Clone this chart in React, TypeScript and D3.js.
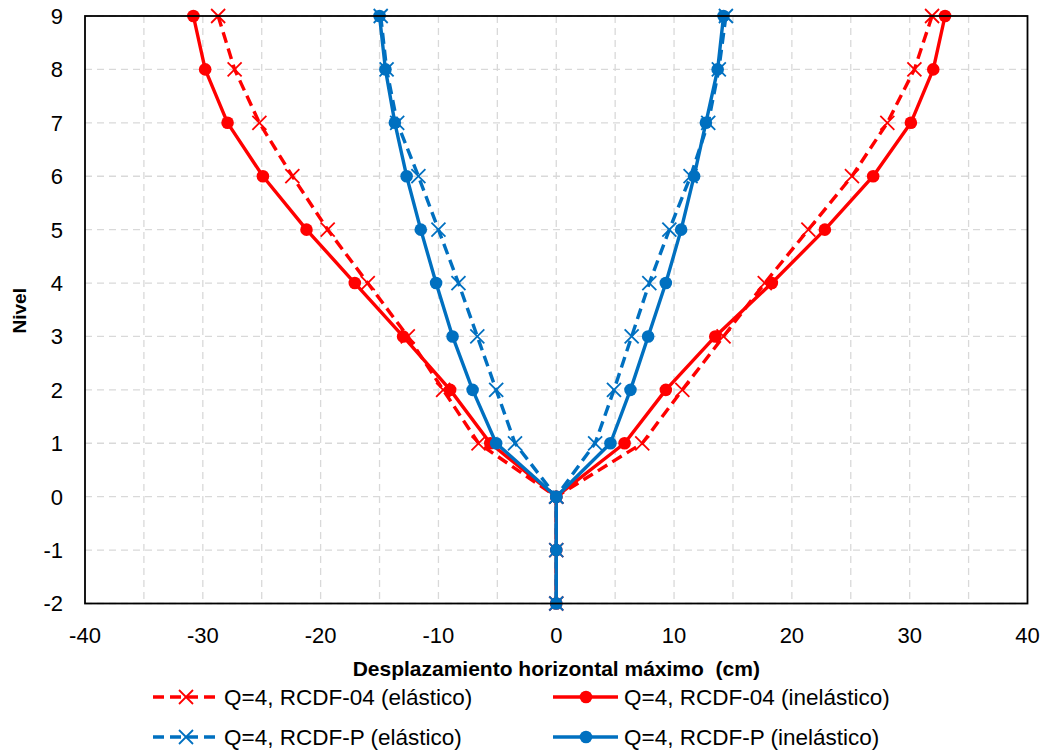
import React from "react";
import * as d3 from "d3";

const levelsUp = [9, 8, 7, 6, 5, 4, 3, 2, 1];
const baseLevels = [0, -1, -2];
const xTicks = [-40, -30, -20, -10, 0, 10, 20, 30, 40];
const yTicks = [-2, -1, 0, 1, 2, 3, 4, 5, 6, 7, 8, 9];
const xGrid = d3.range(-35, 40, 5);

const redElasticLeft = [-28.7, -27.3, -25.2, -22.4, -19.4, -16.0, -12.6, -9.6, -6.6];
const redElasticRight = [31.9, 30.4, 28.1, 25.1, 21.4, 17.7, 14.2, 10.7, 7.3];
const redInelasticLeft = [-30.8, -29.8, -27.9, -24.9, -21.2, -17.1, -13.0, -9.0, -5.6];
const redInelasticRight = [33.0, 32.0, 30.1, 26.9, 22.8, 18.3, 13.5, 9.3, 5.8];
const blueElasticLeft = [-14.9, -14.4, -13.5, -11.7, -10.0, -8.3, -6.7, -5.1, -3.5];
const blueElasticRight = [14.4, 13.8, 12.9, 11.4, 9.6, 7.9, 6.4, 4.9, 3.3];
const blueInelasticLeft = [-15.0, -14.5, -13.7, -12.7, -11.5, -10.2, -8.8, -7.1, -5.1];
const blueInelasticRight = [14.2, 13.7, 12.7, 11.7, 10.6, 9.3, 7.8, 6.3, 4.6];

const RED = "#FF0000";
const BLUE = "#0070C0";

type Series = {
  name: string;
  color: string;
  dashed: boolean;
  marker: "x" | "circle";
  left: number[];
  right: number[];
};

const series: Series[] = [
  { name: "Q=4, RCDF-04 (elástico)", color: RED, dashed: true, marker: "x", left: redElasticLeft, right: redElasticRight },
  { name: "Q=4, RCDF-04 (inelástico)", color: RED, dashed: false, marker: "circle", left: redInelasticLeft, right: redInelasticRight },
  { name: "Q=4, RCDF-P (elástico)", color: BLUE, dashed: true, marker: "x", left: blueElasticLeft, right: blueElasticRight },
  { name: "Q=4, RCDF-P (inelástico)", color: BLUE, dashed: false, marker: "circle", left: blueInelasticLeft, right: blueInelasticRight },
];

const W = 1045;
const H = 752;
const L = 85;
const R = 1027.5;
const T = 16;
const B = 603.5;

const FONT = "'Liberation Sans', Arial, sans-serif";
const DASH = "11,6";

function Marker({ type, x, y, color }: { type: string; x: number; y: number; color: string }) {
  if (type === "circle") return <circle cx={x} cy={y} r={6.3} fill={color} />;
  const s = 7;
  return (
    <g stroke={color} strokeWidth={1.8}>
      <line x1={x - s} y1={y - s} x2={x + s} y2={y + s} />
      <line x1={x - s} y1={y + s} x2={x + s} y2={y - s} />
    </g>
  );
}

export default function App() {
  const x = d3.scaleLinear().domain([-40, 40]).range([L, R]);
  const y = d3.scaleLinear().domain([-2, 9]).range([B, T]);
  const line = d3
    .line<[number, number]>()
    .x((d) => x(d[0]))
    .y((d) => y(d[1]));

  const legendX = [153, 553, 153, 553];
  const rowY = [697, 697, 737, 737];

  return (
    <svg width={W} height={H} style={{ position: "absolute", left: 0, top: 0, background: "#fff" }}>
      <rect x={0} y={0} width={W} height={H} fill="#fff" />
      {/* grid */}
      <g stroke="#d9d9d9" strokeWidth={1.3} strokeDasharray="7,5">
        {xGrid.map((v) => (
          <line key={"gx" + v} x1={x(v)} x2={x(v)} y1={T} y2={B} />
        ))}
        {yTicks.map((v) => (
          <line key={"gy" + v} x1={L} x2={R} y1={y(v)} y2={y(v)} />
        ))}
      </g>
      {/* series */}
      {series.map((s, i) => {
        const leftPts: [number, number][] = [
          ...levelsUp.map((lv, j) => [s.left[j], lv] as [number, number]),
          ...baseLevels.map((lv) => [0, lv] as [number, number]),
        ];
        const rightPts: [number, number][] = [
          ...levelsUp.map((lv, j) => [s.right[j], lv] as [number, number]),
          [0, 0],
        ];
        return (
          <g key={i}>
            {[leftPts, rightPts].map((pts, k) => (
              <path
                key={k}
                d={line(pts) || ""}
                fill="none"
                stroke={s.color}
                strokeWidth={3.4}
                strokeLinejoin="round"
                strokeDasharray={s.dashed ? DASH : undefined}
              />
            ))}
            {[...leftPts, ...rightPts].map((p, k) => (
              <Marker key={k} type={s.marker} x={x(p[0])} y={y(p[1])} color={s.color} />
            ))}
          </g>
        );
      })}
      {/* frame */}
      <rect x={L} y={T} width={R - L} height={B - T} fill="none" stroke="#000" strokeWidth={1.8} />
      {/* tick labels */}
      <g fontFamily={FONT} fontSize={22} fill="#000">
        {xTicks.map((v) => (
          <text key={"xt" + v} x={x(v)} y={643} textAnchor="middle">
            {v}
          </text>
        ))}
        {yTicks.map((v) => (
          <text key={"yt" + v} x={63} y={y(v)} dy="0.36em" textAnchor="end">
            {v}
          </text>
        ))}
      </g>
      <text
        x={(L + R) / 2}
        y={676}
        textAnchor="middle"
        fontFamily={FONT}
        fontWeight="bold"
        fontSize={21}
        style={{ whiteSpace: "pre" }}
      >
        {"Desplazamiento horizontal máximo\u00a0 (cm)"}
      </text>
      <text
        transform={`translate(26, ${(T + B) / 2 + 1}) rotate(-90)`}
        textAnchor="middle"
        fontFamily={FONT}
        fontWeight="bold"
        fontSize={19}
      >
        Nivel
      </text>
      {/* legend */}
      {series.map((s, i) => {
        const lx = legendX[i];
        const ly = rowY[i];
        return (
          <g key={"lg" + i}>
            <line
              x1={lx}
              x2={lx + 65}
              y1={ly}
              y2={ly}
              stroke={s.color}
              strokeWidth={3.4}
              strokeDasharray={s.dashed ? DASH : undefined}
            />
            <Marker type={s.marker} x={lx + 33} y={ly} color={s.color} />
            <text x={lx + 71} y={ly} dy="0.36em" fontFamily={FONT} fontSize={22.5} fill="#000">
              {s.name}
            </text>
          </g>
        );
      })}
    </svg>
  );
}
